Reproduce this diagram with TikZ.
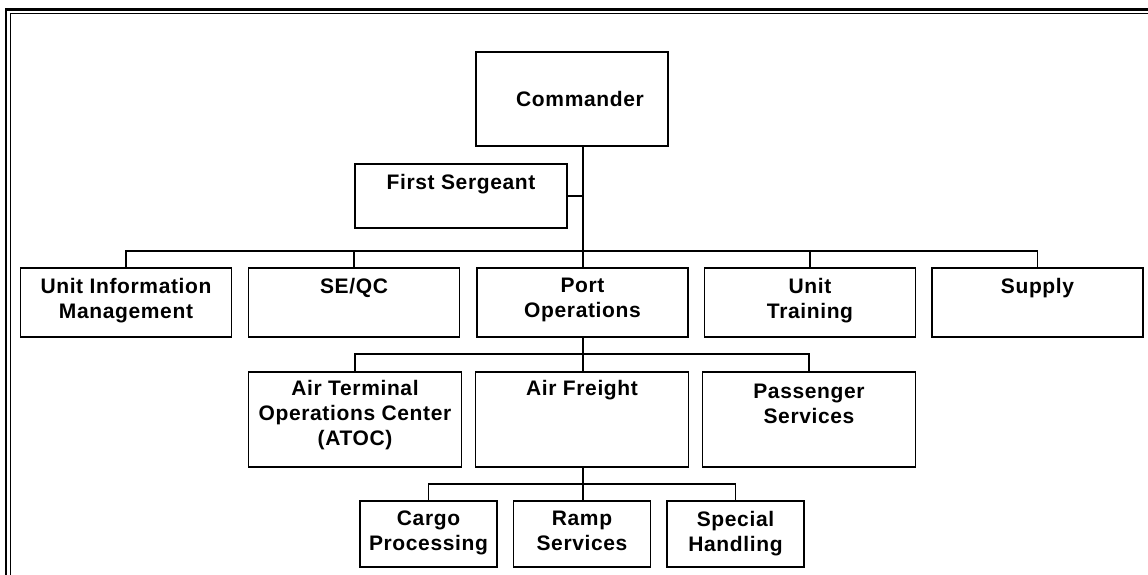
\documentclass[tikz,border=0pt]{standalone}
\usepackage{fontspec}
\setmainfont{Liberation Sans}[LetterSpace=3]
\begin{document}
\begin{tikzpicture}[x=1pt,y=-1pt,
  box/.style={draw, line width=1.8pt, inner sep=0pt, minimum width=211pt, minimum height=69pt},
  lbl/.style={anchor=north, align=center, inner sep=0pt, font=\bfseries\fontsize{21}{25}\selectfont},
  link/.style={line width=1.3pt}]
\useasboundingbox (0,0) rectangle (1148,575);

% double frame along the top and left edges
\draw[line width=2.4pt] (6,575) -- (6,9.5) -- (1148,9.5);
\draw[line width=1.4pt] (10.5,575) -- (10.5,13.5) -- (1148,13.5);

% top of the chart
\node[box, minimum width=192pt, minimum height=94pt] (cmd) at (572,99) {};
\node[lbl, anchor=center] (cmdT) at ([xshift=8pt]cmd.center) {Commander};
\node[box, minimum width=212pt, minimum height=64pt] (fs) at (461,196) {};
\node[lbl] (fsT) at ([yshift=-11pt]fs.north) {First Sergeant};

% second level
\node[box] (uim)  at (126,302.5)    {};
\node[box] (seqc) at (354,302.5)    {};
\node[box] (port) at (582.5,302.5)  {};
\node[box] (utr)  at (810,302.5)    {};
\node[box] (sup)  at (1037.5,302.5) {};
\node[lbl] (uimT)  at ([yshift=-11pt]uim.north)  {Unit Information\\Management};
\node[lbl] (seqcT) at ([yshift=-11pt]seqc.north) {SE/QC};
\node[lbl] (portT) at ([yshift=-11pt]port.north) {Port\\Operations};
\node[lbl] (utrT)  at ([yshift=-11pt]utr.north)  {Unit\\Training};
\node[lbl] (supT)  at ([yshift=-11pt]sup.north)  {Supply};

% third level
\node[box, minimum width=213pt, minimum height=95pt] (atoc) at (355,419.5) {};
\node[box, minimum width=213pt, minimum height=95pt] (afr)  at (582,419.5) {};
\node[box, minimum width=213pt, minimum height=95pt] (pax)  at (809,419.5) {};
\node[lbl] (atocT) at ([yshift=-9pt]atoc.north) {Air Terminal\\Operations Center\\(ATOC)};
\node[lbl] (afrT)  at ([yshift=-9pt]afr.north)  {Air Freight};
\node[lbl] (paxT)  at ([yshift=-13pt]pax.north) {Passenger\\Services};

% fourth level
\node[box, minimum width=137pt, minimum height=66pt] (cargo) at (428.5,534) {};
\node[box, minimum width=137pt, minimum height=66pt] (ramp)  at (582,534)   {};
\node[box, minimum width=137pt, minimum height=66pt] (spec)  at (735.5,534) {};
\node[lbl] (cargoT) at ([yshift=-11pt]cargo.north) {Cargo\\Processing};
\node[lbl] (rampT)  at ([yshift=-11pt]ramp.north)  {Ramp\\Services};
\node[lbl] (specT)  at ([yshift=-11pt]spec.north)  {Special\\Handling};

% connectors
\coordinate (busA) at (583,251);
\coordinate (busB) at (583,354);
\coordinate (busC) at (583,484);
\draw[link] (cmd.south -| busA) -- (port.north -| busA);
\draw[link] (fs.east) -- (fs.east -| busA);
\draw[link] (uim.north) |- (busA) -| (sup.north);
\draw[link] (seqc.north) -- (seqc.north |- busA);
\draw[link] (utr.north) -- (utr.north |- busA);

\draw[link] (port.south -| busB) -- (afr.north -| busB);
\draw[link] (atoc.north) |- (busB) -| (pax.north);

\draw[link] (afr.south -| busC) -- (ramp.north -| busC);
\draw[link] (cargo.north) |- (busC) -| (spec.north);
\end{tikzpicture}
\end{document}
